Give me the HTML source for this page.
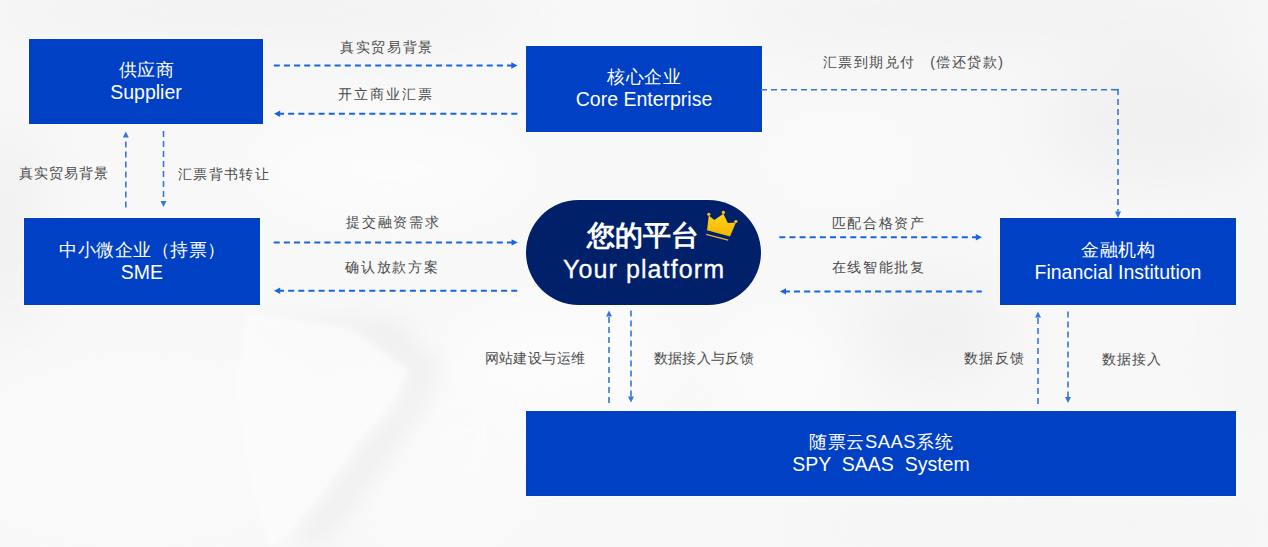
<!DOCTYPE html>
<html><head><meta charset="utf-8">
<style>
html,body{margin:0;padding:0;}
body{width:1268px;height:547px;overflow:hidden;position:relative;background:#f6f6f7;font-family:"Liberation Sans",sans-serif;}
.bg{position:absolute;left:0;top:0;width:1268px;height:547px;}
.box{position:absolute;background:#0040c4;box-shadow:0 0 0 1px rgba(255,255,255,.5);color:#fff;display:flex;flex-direction:column;align-items:center;justify-content:center;text-align:center;}
.zh{font-size:18.4px;letter-spacing:0.5px;text-indent:0.5px;line-height:22px;white-space:nowrap;position:relative;top:-1px;}
.en{font-size:19.5px;line-height:22px;white-space:pre;position:relative;top:-1px;}
.pill{position:absolute;left:526px;top:200px;width:235px;height:105px;border-radius:52.5px;background:#00206a;box-shadow:0 0 0 1px rgba(255,255,255,.6);color:#fff;}
.lbl{position:absolute;font-size:14px;line-height:16px;color:#4a4a4a;letter-spacing:1.7px;white-space:pre;}
svg.ov{position:absolute;left:0;top:0;}
</style></head><body>
<svg class="bg" width="1268" height="547">
<defs><filter id="bl" x="-50%" y="-50%" width="200%" height="200%"><feGaussianBlur stdDeviation="28"/></filter>
<filter id="bl2" x="-50%" y="-50%" width="200%" height="200%"><feGaussianBlur stdDeviation="10"/></filter><filter id="bl3" x="-50%" y="-50%" width="200%" height="200%"><feGaussianBlur stdDeviation="2"/></filter></defs>
<rect width="1268" height="547" fill="#f8f8f9"/>
<g filter="url(#bl)">
<ellipse cx="130" cy="450" rx="200" ry="110" fill="#f9f9fa"/>
<ellipse cx="440" cy="460" rx="110" ry="90" fill="#fafafb"/>
<ellipse cx="390" cy="170" rx="140" ry="45" fill="#fcfcfd"/>
<ellipse cx="560" cy="360" rx="110" ry="55" fill="#fcfcfd"/>
<ellipse cx="840" cy="160" rx="80" ry="45" fill="#fafafb"/>
<ellipse cx="250" cy="12" rx="280" ry="28" fill="#f1f1f2"/>
<ellipse cx="1000" cy="15" rx="280" ry="30" fill="#f1f1f2"/>
<ellipse cx="1160" cy="120" rx="120" ry="70" fill="#f1f1f2"/>
<ellipse cx="8" cy="230" rx="28" ry="110" fill="#efeff0"/>
<ellipse cx="935" cy="330" rx="75" ry="55" fill="#f1f1f2"/>
<ellipse cx="780" cy="370" rx="60" ry="50" fill="#fcfcfd"/>
<ellipse cx="1050" cy="525" rx="260" ry="25" fill="#f4f4f5"/>
<ellipse cx="1255" cy="330" rx="25" ry="140" fill="#f4f4f5"/>
</g>
<g filter="url(#bl2)">
<path d="M252 318 L352 332 L412 372 L398 405 L360 447 L332 490 L295 540 L320 547 L360 500 L392 455 L425 405 L440 368 L395 318 Z" fill="#eeeeef" opacity="0.8"/>
</g>
<path d="M247 313 L350 328 L407 370 L393 403 L355 445 L327 487 L289 534 L270 547 L250 480 L240 420 L238 384 L245 330 Z" fill="#fcfcfc" opacity="0.7" filter="url(#bl3)"/>

</svg>

<div class="box" style="left:29px;top:39px;width:234px;height:85px;"><div class="zh">供应商</div><div class="en">Supplier</div></div>
<div class="box" style="left:526px;top:46px;width:236px;height:86px;"><div class="zh">核心企业</div><div class="en">Core Enterprise</div></div>
<div class="box" style="left:24px;top:218px;width:236px;height:87px;"><div class="zh">中小微企业（持票）</div><div class="en">SME</div></div>
<div class="box" style="left:1000px;top:218px;width:236px;height:87px;"><div class="zh">金融机构</div><div class="en">Financial Institution</div></div>
<div class="box" style="left:526px;top:411px;width:710px;height:85px;"><div class="zh">随票云SAAS系统</div><div class="en">SPY  SAAS  System</div></div>

<div class="pill"></div>
<div style="position:absolute;left:587px;top:218.7px;color:#fff;font-size:28px;font-weight:bold;line-height:34px;white-space:nowrap;">您的平台</div>
<div style="position:absolute;left:563px;top:254px;color:#fff;font-size:25px;letter-spacing:1.1px;-webkit-text-stroke:0.3px #fff;line-height:30px;white-space:nowrap;">Your platform</div>

<div class="lbl" style="left:340px;top:39px;letter-spacing:1.7px;">真实贸易背景</div>
<div class="lbl" style="left:338.4px;top:86px;letter-spacing:1.96px;">开立商业汇票</div>
<div class="lbl" style="left:18.9px;top:164.85px;letter-spacing:1.12px;">真实贸易背景</div>
<div class="lbl" style="left:178px;top:165.65px;letter-spacing:1.32px;">汇票背书转让</div>
<div class="lbl" style="left:345.8px;top:213.95px;letter-spacing:1.88px;">提交融资需求</div>
<div class="lbl" style="left:345px;top:258.55px;letter-spacing:1.79px;">确认放款方案</div>
<div class="lbl" style="left:831.8px;top:215px;letter-spacing:1.59px;">匹配合格资产</div>
<div class="lbl" style="left:831.6px;top:259px;letter-spacing:1.64px;">在线智能批复</div>
<div class="lbl" style="left:822.5px;top:53.7px;letter-spacing:1.5px;">汇票到期兑付<span style="letter-spacing:0"> </span>  (偿还贷款)</div>
<div class="lbl" style="left:484.6px;top:350.2px;letter-spacing:0.45px;">网站建设与运维</div>
<div class="lbl" style="left:653.6px;top:349.9px;letter-spacing:0.35px;">数据接入与反馈</div>
<div class="lbl" style="left:964px;top:350.3px;letter-spacing:1.33px;">数据反馈</div>
<div class="lbl" style="left:1102.2px;top:350.95px;letter-spacing:0.85px;">数据接入</div>

<svg class="ov" width="1268" height="547">
<g stroke="#1765e3" stroke-width="2" stroke-dasharray="6 4.14" fill="none">
<line x1="273.8" y1="65.5" x2="512" y2="65.5"/>
<line x1="278.06" y1="113.7" x2="517.3" y2="113.7"/>
<line x1="273.7" y1="242.4" x2="512.5" y2="242.4"/>
<line x1="278.06" y1="290.8" x2="517.2" y2="290.8"/>
<line x1="779.3" y1="237.3" x2="976.5" y2="237.3"/>
<line x1="783.86" y1="291.4" x2="981.8" y2="291.4"/>
</g>
<g fill="#1765e3">
<path d="M517.5 65.5 L511.3 62.3 L511.3 68.7 Z"/>
<path d="M274 113.7 L280.2 110.5 L280.2 116.9 Z"/>
<path d="M517.8 242.4 L511.6 239.2 L511.6 245.6 Z"/>
<path d="M274 290.8 L280.2 287.6 L280.2 294 Z"/>
<path d="M982 237.3 L975.8 234.1 L975.8 240.5 Z"/>
<path d="M779.8 291.4 L786 288.2 L786 294.6 Z"/>
</g>
<g stroke="#3577d6" stroke-width="1.6" stroke-dasharray="6 4" fill="none">
<line x1="125.8" y1="207.5" x2="125.8" y2="138"/>
<line x1="163.5" y1="131" x2="163.5" y2="201.5"/>
<line x1="609" y1="403" x2="609" y2="317"/>
<line x1="631" y1="310.5" x2="631" y2="396.5"/>
<line x1="1038" y1="404" x2="1038" y2="318"/>
<line x1="1068" y1="311.5" x2="1068" y2="397"/>
<line x1="1107" y1="89.7" x2="757" y2="89.7"/>
<line x1="1118" y1="88.9" x2="1118" y2="211.5"/>
<line x1="1111" y1="89.7" x2="1118.8" y2="89.7" stroke-dasharray="none"/>
</g>
<g fill="#3577d6">
<path d="M125.8 131.5 L122.8 137.5 L128.8 137.5 Z"/>
<path d="M163.5 207 L160.5 201 L166.5 201 Z"/>
<path d="M609 310.5 L606 316.5 L612 316.5 Z"/>
<path d="M631 402.5 L628 396.5 L634 396.5 Z"/>
<path d="M1038 311.5 L1035 317.5 L1041 317.5 Z"/>
<path d="M1068 403 L1065 397 L1071 397 Z"/>
<path d="M1118 218 L1115 211.5 L1121 211.5 Z"/>
</g>
<defs><linearGradient id="cg" x1="0" y1="0" x2="0" y2="1"><stop offset="0" stop-color="#ffd41c"/><stop offset="1" stop-color="#f5b400"/></linearGradient></defs>
<g fill="url(#cg)">
<path d="M707 230.2 L708.8 215.5 L714.3 220 L723.4 213.8 L727.8 222.9 L735.9 222.5 L730 236.5 Z"/>
<circle cx="708.8" cy="214.3" r="1.6"/><circle cx="723.4" cy="212.4" r="1.6"/><circle cx="735.9" cy="221.5" r="1.6"/>
</g>
<line x1="706.2" y1="234.4" x2="728.2" y2="240.1" stroke="#e7b23e" stroke-width="1.3"/>
</svg>
</body></html>
